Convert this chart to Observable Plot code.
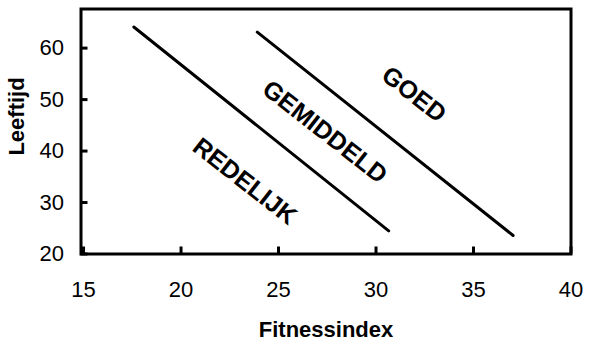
<!DOCTYPE html>
<html>
<head>
<meta charset="utf-8">
<script src="https://cdn.jsdelivr.net/npm/d3@7"></script>
<script src="https://cdn.jsdelivr.net/npm/@observablehq/plot@0.6"></script>
<style>
  html, body { margin: 0; padding: 0; background: #fff; }
  #chart { width: 589px; height: 342px; }
</style>
</head>
<body>
<div id="chart"></div>
<script>
// Tick values
const xTicks = [15, 20, 25, 30, 35, 40];
const yTicks = [20, 30, 40, 50, 60];

// Boundary lines (two segments)
const lineName = ["grens1", "grens1", "grens2", "grens2"];
const lineX = [17.58, 30.65, 23.91, 37.03];
const lineY = [64.1, 24.5, 63.1, 23.6];

// Zone labels
const zoneLabel = ["REDELIJK", "GEMIDDELD", "GOED"];
const zoneX = [23.26, 27.37, 31.94];
const zoneY = [34.1, 43.7, 50.95];

// Axis titles
const xTitle = "Fitnessindex";
const yTitle = "Leeftijd";

const lines = lineName.map((n, i) => ({name: n, x: lineX[i], y: lineY[i]}));
const zones = zoneLabel.map((t, i) => ({text: t, x: zoneX[i], y: zoneY[i]}));

const chart = Plot.plot({
  width: 589,
  height: 342,
  marginLeft: 80.5,
  marginRight: 18.5,
  marginTop: 8.5,
  marginBottom: 88.5,
  style: {
    fontFamily: "Arial, 'Liberation Sans', sans-serif",
    color: "#000",
    background: "#fff"
  },
  x: {domain: [14.87, 40]},
  y: {domain: [20, 67.6]},
  marks: [
    // inward tick marks
    Plot.axisX({ticks: xTicks, tickSize: -7, text: null, strokeWidth: 3, label: null}),
    Plot.axisY({ticks: yTicks, tickSize: -7, text: null, strokeWidth: 3, label: null}),
    // tick labels
    Plot.axisX({ticks: xTicks, tickSize: 0, tickPadding: 27.5, fontSize: 22, tickFormat: d => String(d), label: null}),
    Plot.axisY({ticks: yTicks, tickSize: 0, tickPadding: 17, fontSize: 22, tickFormat: d => String(d), label: null}),
    Plot.frame({stroke: "#000", strokeWidth: 3}),
    Plot.line(lines, {x: "x", y: "y", z: "name", stroke: "#000", strokeWidth: 3}),
    Plot.text(zones, {x: "x", y: "y", text: "text", rotate: 38, fontSize: 25, fontWeight: "bold", fill: "#000"}),
    Plot.text([xTitle], {frameAnchor: "bottom", textAnchor: "middle", lineAnchor: "middle", dy: 75.5, fontSize: 22, fontWeight: "bold", fill: "#000"}),
    Plot.text([yTitle], {frameAnchor: "left", textAnchor: "middle", lineAnchor: "middle", rotate: -90, dx: -64.5, dy: -15, fontSize: 22, fontWeight: "bold", fill: "#000"})
  ]
});
document.getElementById("chart").appendChild(chart);
</script>
</body>
</html>
